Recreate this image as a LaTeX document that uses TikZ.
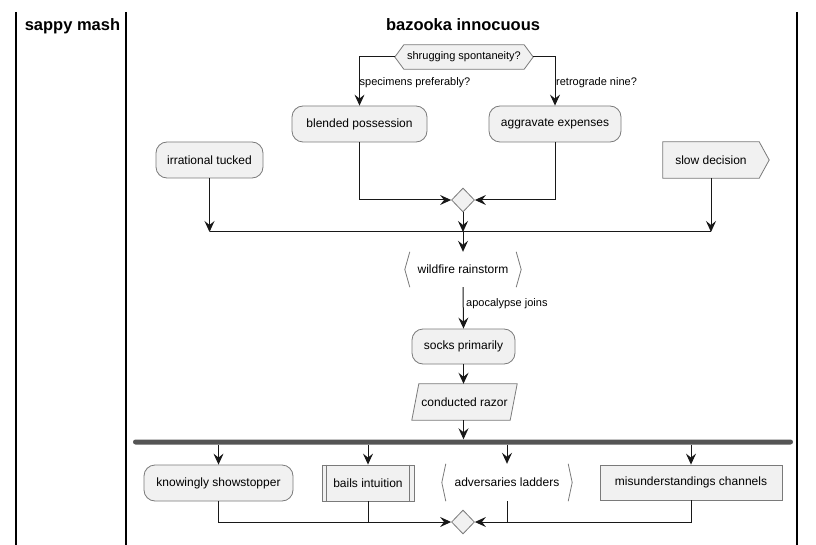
\documentclass[tikz,border=0pt]{standalone}
\usepackage{fontspec}
\setmainfont{Liberation Sans}
\usetikzlibrary{arrows.meta,shapes.geometric}
\definecolor{actfill}{HTML}{F1F1F1}
\definecolor{conncol}{HTML}{181818}
\definecolor{bordercol}{HTML}{7A7A7A}
\definecolor{barcol}{HTML}{555555}
\pgfdeclarelayer{bg}
\pgfsetlayers{bg,main}
\tikzset{
  conn/.style={draw=conncol, line width=1pt},
  arr/.style={conn, -{Stealth[length=11pt,width=10pt,inset=4pt]}},
  txt/.style={font=\fontsize{12}{14}\selectfont, inner sep=0pt, text=black},
  small/.style={font=\fontsize{11}{13}\selectfont, inner sep=0pt, text=black},
  hdr/.style={font=\fontsize{16.5}{20}\selectfont\bfseries, inner sep=0pt, text=black},
  actbox/.style={txt, draw=bordercol, fill=actfill, line width=0.8pt, rounded corners=11pt, minimum height=36pt},
  plainbox/.style={txt, draw=bordercol, fill=actfill, line width=0.8pt, minimum height=36pt},
  bare/.style={txt, minimum height=36pt},
  border/.style={draw=bordercol, line width=0.8pt},
  shapefill/.style={border, fill=actfill},
  merge/.style={diamond, draw=bordercol, fill=actfill, line width=0.8pt, minimum width=23pt, minimum height=24pt, inner sep=0pt},
  lane/.style={draw=black, line width=1.5pt},
}
\begin{document}
\begin{tikzpicture}[x=1pt, y=-1pt]
\useasboundingbox (0,0) rectangle (816,545);
\begin{pgfonlayer}{bg}
\fill[white] (0,0) rectangle (816,545);
\end{pgfonlayer}
% swimlanes
\draw[lane] (16,12) -- (16,545);
\draw[lane] (126,12) -- (126,545);
\draw[lane] (797,12) -- (797,545);
\node[hdr, anchor=base] (h1) at (72.5,31) {sappy mash};
\node[hdr, anchor=base] (h2) at (463,31) {bazooka innocuous};
% nodes
\node[small, minimum width=138pt, minimum height=24pt] (hex) at (464,57) {shrugging spontaneity?};
\node[actbox, minimum width=135pt] (blend) at (359.5,124) {blended possession};
\node[actbox, minimum width=132pt] (aggr) at (555,124) {aggravate expenses};
\node[actbox, minimum width=107pt] (irr) at (209.5,160) {irrational tucked};
\node[bare, minimum width=96pt] (slow) at (711,160) {slow decision};
\node[merge] (m1) at (463,200) {};
\coordinate (jm) at (463,232);
\node[bare, minimum width=116pt, minimum height=35pt] (wild) at (463,269.5) {wildfire rainstorm};
\node[actbox, minimum width=103pt, minimum height=35pt] (socks) at (463.5,346.5) {socks primarily};
\node[bare, minimum width=98pt] (razor) at (464.5,402) {conducted razor};
\node[fill=barcol, rounded corners=2.5pt, minimum width=660pt, minimum height=5pt, inner sep=0pt] (bar) at (463,442) {};
\node[actbox, minimum width=149pt] (know) at (218.5,483) {knowingly showstopper};
\node[plainbox, minimum width=92pt] (bails) at (368,483) {bails intuition};
\node[bare, minimum width=130pt, minimum height=37pt] (adv) at (507,482.5) {adversaries ladders};
\node[plainbox, minimum width=182pt, minimum height=35pt] (mis) at (691,482.5) {misunderstandings channels};
\node[merge] (m2) at (463,522) {};
% custom outlines
\begin{pgfonlayer}{bg}
\path[shapefill] (hex.west) -- ([xshift=9pt]hex.north west) -- ([xshift=-9pt]hex.north east) -- (hex.east) -- ([xshift=-9pt]hex.south east) -- ([xshift=9pt]hex.south west) -- cycle;
\path[shapefill] (slow.north west) -- (slow.north east) -- ([xshift=10pt]slow.east) -- (slow.south east) -- (slow.south west) -- cycle;
\path[shapefill] ([xshift=3.5pt]razor.north west) -- ([xshift=3.5pt]razor.north east) -- ([xshift=-3.5pt]razor.south east) -- ([xshift=-3.5pt]razor.south west) -- cycle;
\end{pgfonlayer}
\draw[border] ([xshift=5pt]wild.north west) -- (wild.west) -- ([xshift=5pt]wild.south west);
\draw[border] ([xshift=-5pt]wild.north east) -- (wild.east) -- ([xshift=-5pt]wild.south east);
\draw[border] ([xshift=4pt]adv.north west) -- (adv.west) -- ([xshift=4pt]adv.south west);
\draw[border] ([xshift=-4pt]adv.north east) -- (adv.east) -- ([xshift=-4pt]adv.south east);
\draw[border] ([xshift=5pt]bails.north west) -- ([xshift=5pt]bails.south west);
\draw[border] ([xshift=-5pt]bails.north east) -- ([xshift=-5pt]bails.south east);
% connectors
\draw[arr] (hex.west) -| (blend.north);
\draw[arr] (hex.east) -| (aggr.north);
\node[small, anchor=west] (l1) at (359.5,83) {specimens preferably?};
\node[small, anchor=west] (l2) at (556,83) {retrograde nine?};
\draw[arr] (blend.south) |- (m1.west);
\draw[arr] (aggr.south) |- (m1.east);
\draw[conn] (irr.south |- jm) -- (slow.south |- jm);
\draw[arr] (irr.south) -- (irr.south |- jm);
\draw[arr] (m1.south) -- (jm);
\draw[arr] (slow.south) -- (slow.south |- jm);
\draw[arr] (jm) -- (wild.north);
\draw[arr] (wild.south) -- (socks.north);
\node[small, anchor=west] (l3) at (466,304) {apocalypse joins};
\draw[arr] (socks.south) -- (razor.north -| socks.south);
\draw[arr] (razor.south -| socks.south) -- (bar.north -| socks.south);
\draw[arr] (bar.south -| know.north) -- (know.north);
\draw[arr] (bar.south -| bails.north) -- (bails.north);
\draw[arr] (bar.south -| adv.north) -- (adv.north);
\draw[arr] (bar.south -| mis.north) -- (mis.north);
\draw[arr] (know.south) |- (m2.west);
\draw[conn] (bails.south) -- (bails.south |- m2);
\draw[arr] (mis.south) |- (m2.east);
\draw[conn] (adv.south) -- (adv.south |- m2);
\end{tikzpicture}
\end{document}
